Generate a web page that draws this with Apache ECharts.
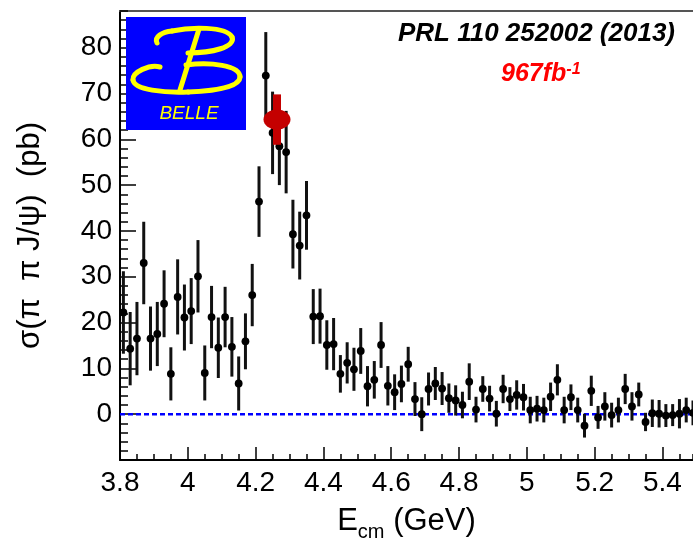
<!DOCTYPE html>
<html>
<head>
<meta charset="utf-8">
<script src="https://cdn.jsdelivr.net/npm/echarts@6/dist/echarts.min.js"></script>
<style>
  html, body { margin: 0; padding: 0; background: #fff; }
  #chart { width: 693px; height: 540px; }
</style>
</head>
<body>
<div id="chart"></div>
<script>
// Centre-of-mass energy of each bin (GeV)
const energies = [
  3.81, 3.83, 3.85, 3.87, 3.89, 3.91, 3.93, 3.95, 3.97, 3.99,
  4.01, 4.03, 4.05, 4.07, 4.09, 4.11, 4.13, 4.15, 4.17, 4.19,
  4.21, 4.23, 4.25, 4.27, 4.29, 4.31, 4.33, 4.35, 4.37, 4.39,
  4.41, 4.43, 4.45, 4.47, 4.49, 4.51, 4.53, 4.55, 4.57, 4.59,
  4.61, 4.63, 4.65, 4.67, 4.69, 4.71, 4.73, 4.75, 4.77, 4.79,
  4.81, 4.83, 4.85, 4.87, 4.89, 4.91, 4.93, 4.95, 4.97, 4.99,
  5.01, 5.03, 5.05, 5.07, 5.09, 5.11, 5.13, 5.15, 5.17, 5.19,
  5.21, 5.23, 5.25, 5.27, 5.29, 5.31, 5.33, 5.35, 5.37, 5.39,
  5.41, 5.43, 5.45, 5.47, 5.49
];
// Cross section sigma(pi+ pi- J/psi) in pb
const crossSections = [
  22.2, 14.3, 16.5, 33.0, 16.5, 17.5, 24.1, 8.8, 25.6, 21.1,
  22.5, 30.1, 9.0, 21.2, 14.5, 21.2, 14.7, 6.7, 15.9, 26.0,
  46.4, 73.9, 61.4, 58.5, 57.2, 39.3, 36.8, 43.4, 21.3, 21.4,
  15.1, 15.3, 8.8, 11.2, 9.8, 13.8, 6.1, 7.5, 15.1, 6.2,
  4.8, 6.6, 10.9, 3.3, 0.0, 5.5, 6.7, 5.6, 3.5, 3.0,
  2.0, 7.1, 1.0, 5.5, 3.4, 0.1, 5.5, 3.3, 4.2, 3.7,
  0.9, 1.2, 0.9, 3.8, 7.5, 0.9, 3.7, 0.9, -2.5, 5.1,
  -0.7, 1.7, -0.2, 0.9, 5.5, 1.7, 4.3, -1.7, 0.2, 0.1,
  -0.3, -0.2, 0.1, 0.9, 0.3
];
// Symmetric statistical errors (pb)
const errors = [
  9.0, 8.0, 8.0, 9.0, 7.0, 7.0, 7.3, 5.8, 8.2, 7.2,
  7.2, 7.9, 6.0, 6.8, 6.6, 6.6, 6.5, 5.9, 6.1, 6.8,
  7.7, 9.5, 9.0, 8.5, 9.0, 7.5, 7.4, 7.5, 6.0, 6.0,
  5.4, 5.7, 4.1, 4.5, 4.7, 5.0, 4.4, 4.1, 5.0, 4.3,
  3.9, 4.0, 3.8, 3.7, 3.7, 3.6, 3.6, 3.6, 3.2, 3.3,
  2.9, 4.0, 2.8, 2.8, 2.8, 2.8, 3.1, 2.6, 3.2, 2.9,
  2.9, 2.8, 2.7, 3.1, 3.4, 2.9, 2.8, 2.7, 2.6, 3.3,
  2.5, 3.1, 2.7, 2.7, 3.3, 3.1, 2.6, 2.0, 3.0, 3.0,
  2.5, 2.4, 3.2, 2.7, 2.7
];
// Highlighted Y(4260) measurement: energy, cross section, error
const highlightPoint = [4.263, 64.3, 5.5];

const xTickLabels = ['3.8', '4', '4.2', '4.4', '4.6', '4.8', '5', '5.2', '5.4'];
const yTickLabels = ['0', '10', '20', '30', '40', '50', '60', '70', '80'];

const xMin = 3.8, xMax = 5.49;
const yMin = -10, yMax = 88;

const chart = echarts.init(document.getElementById('chart'), null, { renderer: 'canvas' });

const points = energies.map((e, i) => [e, crossSections[i], errors[i]]);

function renderErrorPoint(params, api) {
  const x = api.value(0), y = api.value(1), err = api.value(2);
  const c = api.coord([x, y]);
  const hi = api.coord([x, y + err]);
  const lo = api.coord([x, y - err]);
  return {
    type: 'group',
    children: [
      { type: 'line', shape: { x1: c[0], y1: hi[1], x2: c[0], y2: lo[1] },
        style: { stroke: '#111', lineWidth: 3 } },
      { type: 'circle', shape: { cx: c[0], cy: c[1], r: 3.9 },
        style: { fill: '#000' } }
    ]
  };
}

function renderHighlight(params, api) {
  const x = api.value(0), y = api.value(1), err = api.value(2);
  const c = api.coord([x, y]);
  const hi = api.coord([x, y + err]);
  const lo = api.coord([x, y - err]);
  return {
    type: 'group',
    children: [
      { type: 'rect', shape: { x: c[0] - 4, y: hi[1], width: 8, height: lo[1] - hi[1] },
        style: { fill: '#c40000' } },
      { type: 'circle', shape: { cx: 0, cy: 0, r: 10 }, x: c[0], y: c[1], scaleX: 1.35,
        style: { fill: '#c40000' } }
    ]
  };
}

const labelFont = 'Liberation Sans, Arial, sans-serif';
const yellow = '#ffff00';

// Stroke segments of the Belle "B" emblem
const logoCurves = [
  [157, 43, 154, 37, 162, 32, 172, 31],
  [172, 31, 190, 27, 226, 26, 232, 37],
  [232, 37, 236, 47, 212, 53, 188, 53],
  [160, 67, 150, 64, 132, 72, 133, 80],
  [133, 80, 134, 90, 165, 93, 188, 92],
  [188, 92, 215, 91, 240, 87, 240, 77],
  [240, 77, 240, 65, 210, 62, 186, 65]
];

const logoElements = [
  { type: 'rect', z: 10, shape: { x: 126, y: 17, width: 120, height: 113 },
    style: { fill: '#0000ff' } }
].concat(logoCurves.map(b => ({
  type: 'bezierCurve', z: 11,
  shape: { x1: b[0], y1: b[1], cpx1: b[2], cpy1: b[3], cpx2: b[4], cpy2: b[5], x2: b[6], y2: b[7] },
  style: { fill: null, stroke: yellow, lineWidth: 5, lineCap: 'round' }
}))).concat([
  { type: 'line', z: 11, shape: { x1: 199, y1: 29, x2: 180, y2: 90 },
    style: { stroke: yellow, lineWidth: 5, lineCap: 'round' } },
  { type: 'text', z: 11, x: 189, y: 114,
    style: { text: 'BELLE', fill: yellow, font: 'italic 19px ' + labelFont,
             textAlign: 'center', textVerticalAlign: 'middle' } }
]);

const option = {
  animation: false,
  backgroundColor: '#fff',
  grid: { left: 120, right: 0, top: 11, bottom: 80, containLabel: false, outerBoundsMode: 'none' },
  xAxis: [
    {
      type: 'value', min: xMin, max: xMax, interval: 0.2,
      axisLine: { onZero: false, lineStyle: { color: '#000', width: 2 } },
      axisTick: { inside: true, length: 13, lineStyle: { color: '#000', width: 1.5 } },
      axisLabel: {
        color: '#000', fontSize: 28, fontFamily: labelFont, margin: 9,
        showMaxLabel: false,
        formatter: v => {
          const s = xTickLabels.find(t => Math.abs(parseFloat(t) - v) < 1e-6);
          return s || '';
        }
      },
      splitLine: { show: false },
      name: '{e|E}{s|cm}{e| (GeV)}',
      nameLocation: 'middle', nameGap: 46,
      nameTextStyle: {
        color: '#000', fontFamily: labelFont,
        rich: {
          e: { fontSize: 31, color: '#000', fontFamily: labelFont, verticalAlign: 'top' },
          s: { fontSize: 20, color: '#000', fontFamily: labelFont, verticalAlign: 'top', padding: [16, 0, 0, 0] }
        }
      }
    },
    {
      // minor ticks every 50 MeV
      type: 'value', min: xMin, max: xMax, interval: 0.05, position: 'bottom',
      axisLine: { show: false, onZero: false },
      axisTick: { inside: true, length: 6, lineStyle: { color: '#000', width: 1.5 } },
      axisLabel: { show: false }, splitLine: { show: false }
    },
    {
      // top frame
      type: 'value', min: xMin, max: xMax, position: 'top',
      axisLine: { onZero: false, lineStyle: { color: '#555', width: 2 } },
      axisTick: { show: false }, axisLabel: { show: false }, splitLine: { show: false }
    }
  ],
  yAxis: [
    {
      type: 'value', min: yMin, max: yMax, interval: 10,
      axisLine: { onZero: false, lineStyle: { color: '#000', width: 2 } },
      axisTick: { inside: true, length: 16, lineStyle: { color: '#000', width: 1.5 } },
      axisLabel: {
        color: '#000', fontSize: 28, fontFamily: labelFont, margin: 8,
        showMinLabel: false, showMaxLabel: false,
        formatter: v => {
          const s = yTickLabels.find(t => Math.abs(parseFloat(t) - v) < 1e-6);
          return s || '';
        }
      },
      splitLine: { show: false },
      name: 'σ(π  π J/ψ)  (pb)',
      nameLocation: 'middle', nameGap: 74,
      nameTextStyle: { color: '#000', fontSize: 31, fontFamily: labelFont }
    },
    {
      // minor ticks every 2 pb
      type: 'value', min: yMin, max: yMax, interval: 2, position: 'left',
      axisLine: { show: false, onZero: false },
      axisTick: { inside: true, length: 8, lineStyle: { color: '#000', width: 1.5 } },
      axisLabel: { show: false }, splitLine: { show: false }
    }
  ],
  series: [
    {
      type: 'line',
      data: [[xMin, 0], [xMax, 0]],
      showSymbol: false, symbol: 'none',
      lineStyle: { color: '#0000ff', width: 2.5, type: [5, 3] },
      z: 1
    },
    {
      type: 'custom',
      renderItem: renderErrorPoint,
      data: points,
      encode: { x: 0, y: 1 },
      clip: true,
      z: 2
    },
    {
      type: 'custom',
      renderItem: renderHighlight,
      data: [highlightPoint],
      encode: { x: 0, y: 1 },
      z: 3
    }
  ],
  graphic: logoElements.concat([
    // Reference and luminosity
    { type: 'text', z: 10, x: 675, y: 34,
      style: { text: 'PRL 110 252002 (2013)', fill: '#000', font: 'italic bold 26px ' + labelFont,
               textAlign: 'right', textVerticalAlign: 'middle' } },
    { type: 'text', z: 10, x: 501, y: 74,
      style: { text: '{m|967fb}{p|-1}', fill: '#ff0000', font: 'italic bold 25px ' + labelFont,
               textAlign: 'left', textVerticalAlign: 'middle',
               rich: {
                 m: { font: 'italic bold 25px ' + labelFont, fill: '#ff0000', verticalAlign: 'bottom' },
                 p: { font: 'italic bold 16px ' + labelFont, fill: '#ff0000', verticalAlign: 'top' }
               } } }
  ])
};

chart.setOption(option);
</script>
</body>
</html>
